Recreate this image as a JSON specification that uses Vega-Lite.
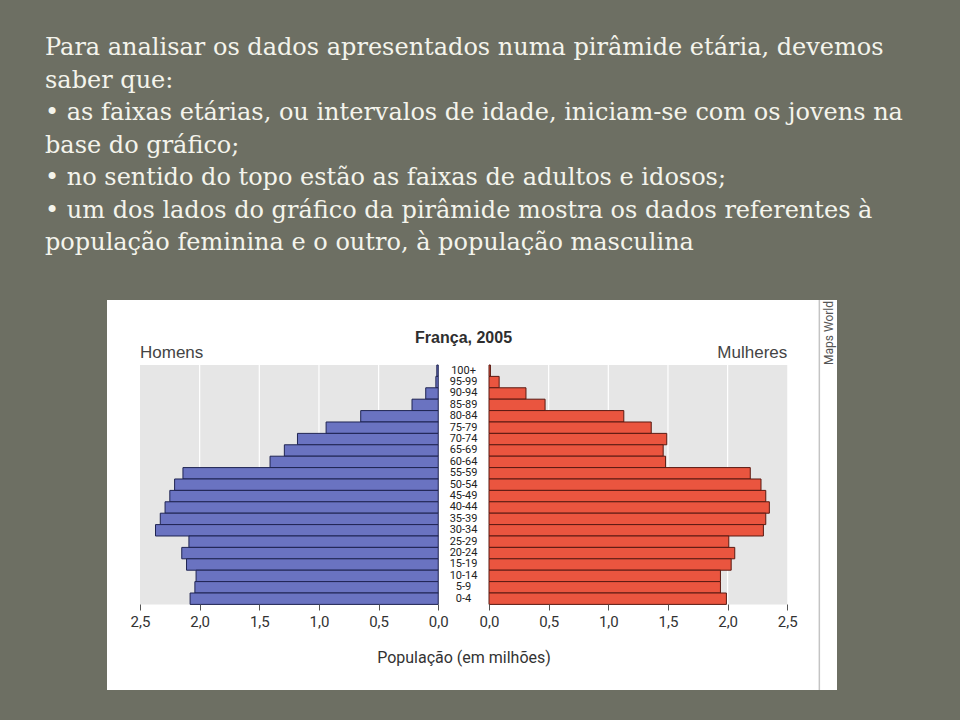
{
  "$schema": "https://vega.github.io/schema/vega-lite/v6.json",
  "width": 730,
  "height": 390,
  "autosize": {"type": "none"},
  "padding": {"left": 107, "top": 300, "right": 123, "bottom": 30},
  "background": "#6d6f63",
  "view": {"fill": "#ffffff", "stroke": null},
  "title": {
    "text": [
      "Para analisar os dados apresentados numa pirâmide etária, devemos",
      "saber que:",
      "• as faixas etárias, ou intervalos de idade, iniciam-se com os jovens na",
      "base do gráfico;",
      "• no sentido do topo estão as faixas de adultos e idosos;",
      "• um dos lados do gráfico da pirâmide mostra os dados referentes à",
      "população feminina e o outro, à população masculina"
    ],
    "anchor": "start",
    "frame": "group",
    "dx": -62,
    "offset": 44,
    "font": "DejaVu Serif",
    "fontSize": 24,
    "fontWeight": "normal",
    "color": "#f4f4ec",
    "lineHeight": 32.5
  },
  "data": {
    "values": [
      {"age": "100+", "start": 100, "end": 105, "men": 0.012, "women": 0.012},
      {"age": "95-99", "start": 95, "end": 100, "men": 0.02, "women": 0.085},
      {"age": "90-94", "start": 90, "end": 95, "men": 0.105, "women": 0.31},
      {"age": "85-89", "start": 85, "end": 90, "men": 0.22, "women": 0.47},
      {"age": "80-84", "start": 80, "end": 85, "men": 0.65, "women": 1.13},
      {"age": "75-79", "start": 75, "end": 80, "men": 0.94, "women": 1.36},
      {"age": "70-74", "start": 70, "end": 75, "men": 1.18, "women": 1.49},
      {"age": "65-69", "start": 65, "end": 70, "men": 1.29, "women": 1.46},
      {"age": "60-64", "start": 60, "end": 65, "men": 1.41, "women": 1.48},
      {"age": "55-59", "start": 55, "end": 60, "men": 2.14, "women": 2.19},
      {"age": "50-54", "start": 50, "end": 55, "men": 2.21, "women": 2.28},
      {"age": "45-49", "start": 45, "end": 50, "men": 2.25, "women": 2.32},
      {"age": "40-44", "start": 40, "end": 45, "men": 2.29, "women": 2.35},
      {"age": "35-39", "start": 35, "end": 40, "men": 2.33, "women": 2.32},
      {"age": "30-34", "start": 30, "end": 35, "men": 2.37, "women": 2.30},
      {"age": "25-29", "start": 25, "end": 30, "men": 2.09, "women": 2.01},
      {"age": "20-24", "start": 20, "end": 25, "men": 2.15, "women": 2.06},
      {"age": "15-19", "start": 15, "end": 20, "men": 2.11, "women": 2.03},
      {"age": "10-14", "start": 10, "end": 15, "men": 2.03, "women": 1.94},
      {"age": "5-9", "start": 5, "end": 10, "men": 2.04, "women": 1.94},
      {"age": "0-4", "start": 0, "end": 5, "men": 2.08, "women": 1.99}
    ]
  },
  "layer": [
    {
      "layer": [
        {
          "data": {"values": [{"panel": "Homens"}]},
          "mark": {"type": "rect", "color": "#e6e6e6", "stroke": null},
          "encoding": {
            "x": {"datum": 0, "type": "quantitative",
              "scale": {"domain": [-3.3424, 2.7766], "reverse": true, "nice": false, "zero": false}},
            "x2": {"datum": 2.5},
            "y": {"datum": 0, "type": "quantitative", "axis": null,
              "scale": {"domain": [-37.54, 133.5], "nice": false, "zero": false}},
            "y2": {"datum": 105}
          }
        },
        {
          "data": {"values": [{"g": 0.5}, {"g": 1}, {"g": 1.5}, {"g": 2}]},
          "mark": {"type": "rule", "color": "#ffffff", "strokeWidth": 1.2},
          "encoding": {
            "x": {"field": "g", "type": "quantitative",
              "scale": {"domain": [-3.3424, 2.7766], "reverse": true, "nice": false, "zero": false}},
            "y": {"datum": 0, "type": "quantitative", "axis": null,
              "scale": {"domain": [-37.54, 133.5], "nice": false, "zero": false}},
            "y2": {"datum": 105}
          }
        },
        {
          "mark": {"type": "bar", "color": "#6a73c1", "stroke": "#1f2452", "strokeWidth": 1},
          "encoding": {
            "x": {"field": "men", "type": "quantitative",
              "scale": {"domain": [-3.3424, 2.7766], "reverse": true, "nice": false, "zero": false},
              "axis": {
                "orient": "bottom", "values": [0, 0.5, 1, 1.5, 2, 2.5], "grid": false, "domain": false,
                "offset": -86, "zindex": 1, "tickSize": 6, "tickColor": "#555555",
                "labelExpr": "replace(format(datum.value, '.1f'), '.', ',')",
                "labelFont": "Liberation Sans Narrow, Roboto", "labelFontSize": 15, "labelColor": "#333333",
                "labelPadding": 4, "labelFlush": false, "labelOverlap": false,
                "title": "População (em milhões)", "titleFont": "Liberation Sans Narrow, Roboto",
                "titleFontSize": 16, "titleFontWeight": "normal", "titleColor": "#333333",
                "titleX": 356.5, "titleY": 53, "titleBaseline": "middle"
              }
            },
            "x2": {"datum": 0},
            "y": {"field": "start", "type": "quantitative", "axis": null,
              "scale": {"domain": [-37.54, 133.5], "nice": false, "zero": false}},
            "y2": {"field": "end"}
          }
        },
        {
          "mark": {"type": "text", "align": "center", "baseline": "middle", "font": "Liberation Sans Narrow, Roboto", "fontSize": 11, "color": "#222222", "dy": -5.7},
          "encoding": {
            "x": {"datum": -0.212, "type": "quantitative",
              "scale": {"domain": [-3.3424, 2.7766], "reverse": true, "nice": false, "zero": false}},
            "y": {"field": "start", "type": "quantitative", "axis": null,
              "scale": {"domain": [-37.54, 133.5], "nice": false, "zero": false}},
            "text": {"field": "age", "type": "nominal"}
          }
        },
        {
          "data": {"values": [{"label": "França, 2005"}]},
          "mark": {"type": "text", "align": "center", "baseline": "middle", "font": "Liberation Sans", "fontWeight": "bold", "fontSize": 16, "color": "#2e2e2e", "dy": -27},
          "encoding": {
            "x": {"datum": -0.212, "type": "quantitative",
              "scale": {"domain": [-3.3424, 2.7766], "reverse": true, "nice": false, "zero": false}},
            "y": {"datum": 105, "type": "quantitative", "axis": null,
              "scale": {"domain": [-37.54, 133.5], "nice": false, "zero": false}},
            "text": {"field": "label", "type": "nominal"}
          }
        },
        {
          "data": {"values": [{"label": "Homens"}]},
          "mark": {"type": "text", "align": "left", "baseline": "middle", "font": "Liberation Sans", "fontSize": 17, "color": "#444444", "dy": -12},
          "encoding": {
            "x": {"datum": 2.5, "type": "quantitative",
              "scale": {"domain": [-3.3424, 2.7766], "reverse": true, "nice": false, "zero": false}},
            "y": {"datum": 105, "type": "quantitative", "axis": null,
              "scale": {"domain": [-37.54, 133.5], "nice": false, "zero": false}},
            "text": {"field": "label", "type": "nominal"}
          }
        }
      ]
    },
    {
      "layer": [
        {
          "data": {"values": [{"panel": "Mulheres"}]},
          "mark": {"type": "rect", "color": "#e6e6e6", "stroke": null},
          "encoding": {
            "x": {"datum": 0, "type": "quantitative",
              "scale": {"domain": [-3.202, 2.917], "nice": false, "zero": false}},
            "x2": {"datum": 2.5},
            "y": {"datum": 0, "type": "quantitative", "axis": null,
              "scale": {"domain": [-37.54, 133.5], "nice": false, "zero": false}},
            "y2": {"datum": 105}
          }
        },
        {
          "data": {"values": [{"g": 0.5}, {"g": 1}, {"g": 1.5}, {"g": 2}]},
          "mark": {"type": "rule", "color": "#ffffff", "strokeWidth": 1.2},
          "encoding": {
            "x": {"field": "g", "type": "quantitative",
              "scale": {"domain": [-3.202, 2.917], "nice": false, "zero": false}},
            "y": {"datum": 0, "type": "quantitative", "axis": null,
              "scale": {"domain": [-37.54, 133.5], "nice": false, "zero": false}},
            "y2": {"datum": 105}
          }
        },
        {
          "mark": {"type": "bar", "color": "#ea553f", "stroke": "#5a1a12", "strokeWidth": 1},
          "encoding": {
            "x": {"field": "women", "type": "quantitative",
              "scale": {"domain": [-3.202, 2.917], "nice": false, "zero": false},
              "axis": {
                "orient": "bottom", "values": [0, 0.5, 1, 1.5, 2, 2.5], "grid": false, "domain": false,
                "offset": -86, "zindex": 1, "tickSize": 6, "tickColor": "#555555",
                "labelExpr": "replace(format(datum.value, '.1f'), '.', ',')",
                "labelFont": "Liberation Sans Narrow, Roboto", "labelFontSize": 15, "labelColor": "#333333",
                "labelPadding": 4, "labelFlush": false, "labelOverlap": false, "title": null
              }
            },
            "x2": {"datum": 0},
            "y": {"field": "start", "type": "quantitative", "axis": null,
              "scale": {"domain": [-37.54, 133.5], "nice": false, "zero": false}},
            "y2": {"field": "end"}
          }
        },
        {
          "data": {"values": [{"label": "Mulheres"}]},
          "mark": {"type": "text", "align": "right", "baseline": "middle", "font": "Liberation Sans", "fontSize": 17, "color": "#444444", "dy": -12},
          "encoding": {
            "x": {"datum": 2.5, "type": "quantitative",
              "scale": {"domain": [-3.202, 2.917], "nice": false, "zero": false}},
            "y": {"datum": 105, "type": "quantitative", "axis": null,
              "scale": {"domain": [-37.54, 133.5], "nice": false, "zero": false}},
            "text": {"field": "label", "type": "nominal"}
          }
        },
        {
          "data": {"values": [{"s": 1}]},
          "mark": {"type": "rule", "color": "#c4c4c4", "strokeWidth": 1.5},
          "encoding": {
            "x": {"datum": 2.769, "type": "quantitative",
              "scale": {"domain": [-3.202, 2.917], "nice": false, "zero": false}}
          }
        },
        {
          "data": {"values": [{"label": "Maps World"}]},
          "mark": {"type": "text", "align": "center", "baseline": "middle", "angle": 270, "font": "Liberation Sans Narrow, Roboto", "fontSize": 12, "color": "#555555", "dx": 32},
          "encoding": {
            "x": {"datum": 2.85, "type": "quantitative",
              "scale": {"domain": [-3.202, 2.917], "nice": false, "zero": false}},
            "y": {"datum": 105, "type": "quantitative", "axis": null,
              "scale": {"domain": [-37.54, 133.5], "nice": false, "zero": false}},
            "text": {"field": "label", "type": "nominal"}
          }
        }
      ]
    }
  ],
  "resolve": {"scale": {"x": "independent"}, "axis": {"x": "independent"}}
}
